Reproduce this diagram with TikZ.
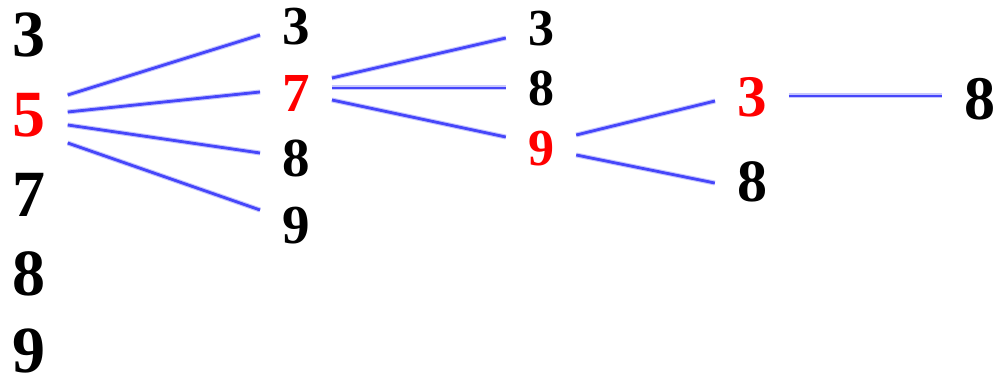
\documentclass[tikz,border=0pt]{standalone}
\usepackage{fontspec}
\setmainfont{Liberation Serif}
\definecolor{linkblue}{RGB}{70,70,250}
\tikzset{
	num/.style={font=\fontsize{#1}{#1}\selectfont\bfseries, inner xsep=22pt, inner ysep=0pt},
	hot/.style={text=red},
	branch/.style={draw=linkblue, line width=2.8pt, preaction={draw=linkblue!30, line width=5pt}}
}
\begin{document}
\begin{tikzpicture}[x=1pt,y=-1pt,line cap=butt]
	\useasboundingbox (0,0) rectangle (995,379);
	% first column
	\node[num=66] (a3) at (29,35) {3};
	\node[num=66,hot] (a5) at (29,115) {5};
	\node[num=66] (a7) at (29,195) {7};
	\node[num=66] (a8) at (29,274) {8};
	\node[num=66] (a9) at (29,351) {9};
	% second column
	\node[num=55] (b3) at (296,27) {3};
	\node[num=55,hot] (b7) at (296,93) {7};
	\node[num=55] (b8) at (296,158) {8};
	\node[num=55] (b9) at (296,226) {9};
	% third column
	\node[num=52] (c3) at (541,29) {3};
	\node[num=52] (c8) at (541,88) {8};
	\node[num=52,hot] (c9) at (541,149) {9};
	% fourth and fifth column
	\node[num=59,hot] (d3) at (752,97) {3};
	\node[num=60] (d8) at (752,182) {8};
	\node[num=62] (e8) at (980,99) {8};
	% branches
	\draw[branch] ([yshift=20pt]a5.east) -- ([yshift=-8pt]b3.west);
	\draw[branch] ([yshift=3pt]a5.east) -- ([yshift=1pt]b7.west);
	\draw[branch] ([yshift=-10pt]a5.east) -- ([yshift=5pt]b8.west);
	\draw[branch] ([yshift=-28pt]a5.east) -- ([yshift=16pt]b9.west);
	\draw[branch] ([yshift=15pt]b7.east) -- ([yshift=-9pt]c3.west);
	\draw[branch] ([yshift=5pt]b7.east) -- ([yshift=0pt]c8.west);
	\draw[branch] ([yshift=-7pt]b7.east) -- ([yshift=12pt]c9.west);
	\draw[branch] ([yshift=14pt]c9.east) -- ([yshift=-4pt]d3.west);
	\draw[branch] ([yshift=-6pt]c9.east) -- ([yshift=-1pt]d8.west);
	\draw[branch] ([yshift=1pt]d3.east) -- ([yshift=3pt]e8.west);
\end{tikzpicture}
\end{document}
